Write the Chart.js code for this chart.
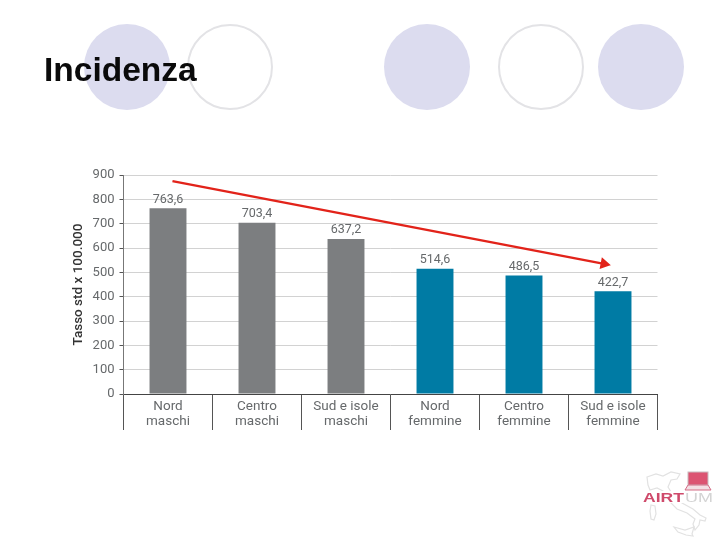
<!DOCTYPE html>
<html lang="it">
<head>
<meta charset="utf-8">
<title>Incidenza</title>
<script src="https://cdn.jsdelivr.net/npm/chart.js@4/dist/chart.umd.min.js"></script>
<style>
  html, body { margin: 0; padding: 0; background: #fff; }
  #slide { position: relative; width: 720px; height: 540px; overflow: hidden; }
  .dot { position: absolute; top: 24px; width: 86px; height: 86px; border-radius: 50%; box-sizing: border-box; }
  .dot.full { background: #dcdcef; }
  .dot.ring { border: 2px solid #e3e3e6; }
  h1 { position: absolute; left: 44px; top: 51px; margin: 0; font: bold 33.5px/38px "Liberation Sans", sans-serif; color: #0a0a0a; }
  canvas { position: absolute; left: 0; top: 0; }
  #logo { position: absolute; left: 636px; top: 462px; }
</style>
</head>
<body>
<div id="slide">
  <div class="dot full" style="left:84px"></div>
  <div class="dot ring" style="left:187px"></div>
  <div class="dot full" style="left:384px"></div>
  <div class="dot ring" style="left:498px"></div>
  <div class="dot full" style="left:598px"></div>
  <canvas id="chart" width="720" height="540"></canvas>
  <h1>Incidenza</h1>
  <svg id="logo" width="84" height="78" viewBox="636 462 84 78">
    <path d="M647 477l9-3 7 2 8-4 9 2-3 5-6 1-3 7 5 8 9 8 11 6 7 6 6 3-1 3-5-1-1 5-4 5-2-6 2-5-8-6-10-4-8-8-6-10-6-3-7 2-2-5z" fill="none" stroke="#e2e2e2" stroke-width="1.2"/>
    <path d="M651 505l4 1 1 8-2 6-3-1-1-8z" fill="none" stroke="#e2e2e2" stroke-width="1.2"/>
    <path d="M674 527l11 3 9-3-2 7 1 2-7-1-8-3z" fill="none" stroke="#e2e2e2" stroke-width="1.2"/>
    <rect x="688" y="472" width="20" height="13" fill="#dc5472" stroke="#c9bcc0" stroke-width="1"/>
    <path d="M688 485h20l3 5h-26z" fill="#f3dfe4" stroke="#d36c85" stroke-width="1"/>
    <rect x="642" y="491" width="72" height="12" fill="#fff"/>
    <text x="643" y="502" font-family="Liberation Sans" font-weight="bold" font-size="13" textLength="41" lengthAdjust="spacingAndGlyphs" fill="#cf4a6b">AIRT</text>
    <text x="685" y="502" font-family="Liberation Sans" font-size="13" textLength="28" lengthAdjust="spacingAndGlyphs" fill="#d4d4d4">UM</text>
  </svg>
</div>
<script>
const categories = [
  ["Nord", "maschi"], ["Centro", "maschi"], ["Sud e isole", "maschi"],
  ["Nord", "femmine"], ["Centro", "femmine"], ["Sud e isole", "femmine"]
];
const rates = [763.6, 703.4, 637.2, 514.6, 486.5, 422.7];
const barColors = ["#7c7e80", "#7c7e80", "#7c7e80", "#007ba4", "#007ba4", "#007ba4"];
const trendX = [0.55, 5.4];
const trendY = [875, 535];

const labelFont = "Roboto, sans-serif";

// bar values above each bar, with the decimal comma
const valueLabels = {
  id: "valueLabels",
  afterDatasetsDraw(chart) {
    const ctx = chart.ctx;
    ctx.save();
    ctx.font = "12.5px " + labelFont;
    ctx.fillStyle = "#66696b";
    ctx.textAlign = "center";
    ctx.textBaseline = "alphabetic";
    chart.getDatasetMeta(0).data.forEach((bar, i) => {
      ctx.fillText(rates[i].toFixed(1).replace(".", ","), bar.x, bar.y - 5.5);
    });
    ctx.restore();
  }
};

new Chart(document.getElementById("chart"), {
  type: "bar",
  data: {
    labels: categories,
    datasets: [
      {
        data: rates,
        backgroundColor: barColors,
        grouped: false,
        categoryPercentage: 1,
        barPercentage: 0.415,
        order: 2
      },
      {
        type: "line",
        data: trendX.map((x, i) => ({ x: x, y: trendY[i] })),
        xAxisID: "xTrend",
        borderColor: "#e2231a",
        borderWidth: 2.4,
        pointStyle: "triangle",
        pointRadius: [0, 4.5],
        pointRotation: [0, 101],
        pointBackgroundColor: "#e2231a",
        pointBorderColor: "#e2231a",
        tension: 0,
        order: 1
      }
    ]
  },
  options: {
    responsive: false,
    animation: false,
    layout: { padding: { top: 175, right: 62.5, left: 64, bottom: 0 } },
    plugins: { legend: { display: false }, tooltip: { enabled: false } },
    scales: {
      x: {
        afterFit(scale) { scale.height = 146; },
        border: { color: "#444", width: 1 },
        grid: {
          offset: true,
          drawOnChartArea: false,
          color: "#555",
          tickColor: "#555",
          tickLength: 36
        },
        ticks: {
          color: "#66696b",
          padding: -30.5,
          maxRotation: 0,
          autoSkip: false,
          font: { family: labelFont, size: 13.5, lineHeight: 1.1 }
        }
      },
      // plain 0-6 axis under the trend arrow, no category offset
      xTrend: { type: "linear", display: false, offset: false, min: 0, max: 6 },
      y: {
        min: 0,
        max: 900,
        afterFit(scale) { scale.width = 59.5; },
        border: { color: "#777", width: 1 },
        grid: { color: "#d2d2d2", tickColor: "#555", tickLength: 4 },
        ticks: {
          stepSize: 100,
          color: "#66696b",
          padding: 5,
          font: { family: labelFont, size: 13 }
        },
        title: {
          display: true,
          text: "Tasso std x 100.000",
          color: "#333",
          padding: { top: 7, bottom: 0 },
          font: { family: labelFont, size: 13.5, weight: "500" }
        }
      }
    }
  },
  plugins: [valueLabels]
});
</script>
</body>
</html>
